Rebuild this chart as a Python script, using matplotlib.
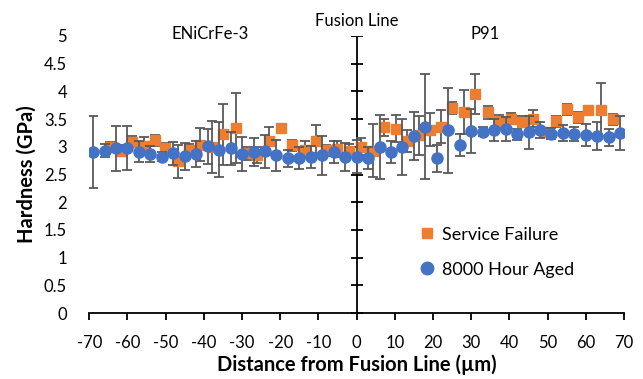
import numpy as np
import matplotlib
matplotlib.use("Agg")
import matplotlib.pyplot as plt
from matplotlib.lines import Line2D

plt.rcParams['font.family'] = ['Lato', 'DejaVu Sans']
plt.rcParams['axes.unicode_minus'] = False

# 8000 hour aged (blue circles)
aged_x = [-69, -66, -63, -60, -57, -54, -51, -48, -45, -42, -39, -36, -33, -30, -27, -24,
          -21, -18, -15, -12, -9, -6, -3, 0, 3, 6, 9, 12, 15, 18, 21, 24, 27, 30, 33, 36,
          39, 42, 45, 48, 51, 54, 57, 60, 63, 66, 69]
aged_y = [2.90, 2.93, 2.97, 2.98, 2.91, 2.87, 2.82, 2.88, 2.83, 2.87, 3.01, 2.95, 2.97, 2.87,
          2.91, 2.92, 2.85, 2.79, 2.80, 2.82, 2.85, 2.90, 2.82, 2.82,
          2.80, 3.00, 2.91, 3.00, 3.19, 3.36, 2.79, 3.30, 3.04, 3.28, 3.27, 3.31, 3.32, 3.23,
          3.26, 3.30, 3.24, 3.25, 3.23, 3.21, 3.19, 3.17, 3.25]
aged_err = [0.65, 0.12, 0.40, 0.40, 0.19, 0.15, 0.08, 0.20, 0.24, 0.24, 0.32, 0.50, 0.30, 0.30,
            0.25, 0.30, 0.28, 0.16, 0.20, 0.20, 0.35, 0.20, 0.25, 0.30,
            0.20, 0.58, 0.20, 0.50, 0.43, 0.95, 0.25, 0.77, 0.20, 0.40, 0.08, 0.20, 0.22, 0.10,
            0.30, 0.15, 0.10, 0.15, 0.12, 0.20, 0.25, 0.15, 0.30]

# service failure (orange squares)
sf_x = [-64.6, -61.7, -58.7, -55.6, -52.9, -50.1, -46.7, -43.8, -41.0, -37.9, -34.9, -31.7,
        -28.8, -26.0, -22.9, -19.9, -16.8, -13.6, -10.7, -7.9, -5.1, -1.9,
        1.2, 4.2, 7.1, 10.2, 13.2, 16.3, 19.2, 22.2, 24.9, 28.2, 31.1, 34.4, 37.3, 40.5,
        43.4, 46.1, 49.6, 52.3, 55.1, 58.0, 60.7, 64.1, 67.2]
sf_y = [3.00, 2.93, 3.09, 3.02, 3.12, 2.97, 2.74, 2.95, 3.04, 2.99, 3.23, 3.34, 2.88, 2.85,
        3.10, 3.34, 3.03, 2.95, 3.10, 2.94, 2.96, 2.93,
        3.00, 2.93, 3.35, 3.33, 3.10, 3.21, 3.31, 3.36, 3.70, 3.63, 3.95, 3.62, 3.46, 3.51,
        3.45, 3.51, 3.27, 3.46, 3.68, 3.53, 3.67, 3.67, 3.50]
sf_err = [0.08, 0.10, 0.10, 0.15, 0.10, 0.10, 0.30, 0.10, 0.30, 0.47, 0.55, 0.63, 0.12, 0.15,
          0.25, 0.05, 0.10, 0.15, 0.30, 0.10, 0.15, 0.12,
          0.15, 0.48, 0.15, 0.25, 0.20, 0.35, 0.30, 0.30, 0.10, 0.40, 0.36, 0.12, 0.12, 0.10,
          0.10, 0.15, 0.05, 0.10, 0.10, 0.10, 0.05, 0.48, 0.10]

x_ticks = [-70, -60, -50, -40, -30, -20, -10, 0, 10, 20, 30, 40, 50, 60, 70]
y_ticks = [0, 0.5, 1, 1.5, 2, 2.5, 3, 3.5, 4, 4.5, 5]
y_labels = ['0', '0.5', '1', '1.5', '2', '2.5', '3', '3.5', '4', '4.5', '5']

blue = '#4472C4'
orange = '#ED7D31'
grey = '#595959'

fig = plt.figure(figsize=(6.43, 3.79), dpi=100)
ax = fig.add_axes([89.3 / 643, 66 / 379, (624 - 89.3) / 643, (313 - 36) / 379])

ax.errorbar(sf_x, sf_y, yerr=sf_err, fmt='s', color=orange, ms=6.5, mec=orange,
            ecolor=grey, elinewidth=1.3, capsize=3.5, capthick=1.3, zorder=3)
ax.errorbar(aged_x, aged_y, yerr=aged_err, fmt='o', color=blue, ms=8, mec=blue,
            ecolor=grey, elinewidth=1.3, capsize=3.5, capthick=1.3, zorder=4)

# vertical axis drawn at the fusion line
ax.axvline(0, color='black', lw=1.3, zorder=2)
ax.plot([0] * len(y_ticks), y_ticks, linestyle='none', marker='_', ms=9, mew=1.3,
        color='black', zorder=2)

ax.set_xlim(-70, 70)
ax.set_ylim(0, 5)
ax.set_xticks(x_ticks)
ax.set_xticklabels([str(t) for t in x_ticks])
ax.set_yticks(y_ticks)
ax.set_yticklabels(y_labels)
for s in ['top', 'right', 'left']:
    ax.spines[s].set_visible(False)
ax.spines['bottom'].set_linewidth(1.3)
ax.tick_params(axis='x', direction='out', length=5, width=1.3, labelsize=12, pad=11)
ax.tick_params(axis='y', length=0, labelsize=12, pad=16)

ax.set_xlabel('Distance from Fusion Line (µm)', fontsize=14.5, fontweight='bold', labelpad=2)
ax.set_ylabel('Hardness (GPa)', fontsize=14.5, fontweight='bold', labelpad=5)

ax.text(0, 5.27, 'Fusion Line', ha='center', va='center', fontsize=12, clip_on=False)
ax.text(-38.4, 5.03, 'ENiCrFe-3', ha='center', va='center', fontsize=12, clip_on=False)
ax.text(33.6, 5.03, 'P91', ha='center', va='center', fontsize=12, clip_on=False)

handles = [Line2D([], [], marker='s', color=orange, linestyle='none', ms=6.5),
           Line2D([], [], marker='o', color=blue, linestyle='none', ms=9)]
ax.legend(handles, ['Service Failure', '8000 Hour Aged'], loc='upper left',
          bbox_to_anchor=(0.585, 0.37), frameon=False, fontsize=13, handletextpad=0.3,
          labelspacing=1.05, handlelength=1.0)

fig.savefig('out.png', dpi=100)
